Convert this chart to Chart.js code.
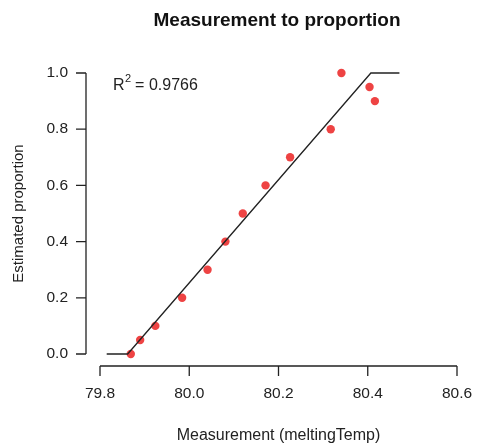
<!DOCTYPE html>
<html>
<head>
<meta charset="utf-8">
<script src="https://cdn.jsdelivr.net/npm/chart.js@4.4.1/dist/chart.umd.min.js"></script>
<style>
  html, body { margin: 0; padding: 0; background: #fff; }
  #wrap { width: 477px; height: 444px; }
</style>
</head>
<body>
<div id="wrap"><canvas id="c" width="477" height="444"></canvas></div>
<script>
// observed measurements and their estimated proportions
var measX = [79.869, 79.890, 79.924, 79.984, 80.041, 80.081, 80.120, 80.171, 80.226, 80.317, 80.341, 80.404, 80.416];
var measY = [0.0, 0.05, 0.1, 0.2, 0.3, 0.4, 0.5, 0.6, 0.7, 0.8, 1.0, 0.95, 0.9];

// fitted (clamped) line
var fitX = [79.815, 79.862, 80.407, 80.471];
var fitY = [0, 0, 1, 1];

var xTicks = [79.8, 80.0, 80.2, 80.4, 80.6];
var yTicks = [0.0, 0.2, 0.4, 0.6, 0.8, 1.0];
var rSquared = 0.9766;

var FONT = '"Liberation Sans", Arial, Helvetica, sans-serif';

function zip(xs, ys) {
  return xs.map(function (x, i) { return { x: x, y: ys[i] }; });
}

// R style axes, offset from the plot region
var baseAxes = {
  id: 'baseAxes',
  afterDraw: function (chart) {
    var ctx = chart.ctx;
    var xs = chart.scales.x, ys = chart.scales.y;
    var area = chart.chartArea;
    ctx.save();
    ctx.strokeStyle = '#222';
    ctx.fillStyle = '#222';
    ctx.lineWidth = 1.3;

    // x axis
    var axY = area.bottom + 12;
    var x0 = xs.getPixelForValue(xTicks[0]);
    var x1 = xs.getPixelForValue(xTicks[xTicks.length - 1]);
    ctx.beginPath();
    ctx.moveTo(x0, axY); ctx.lineTo(x1, axY);
    xTicks.forEach(function (t) {
      var px = xs.getPixelForValue(t);
      ctx.moveTo(px, axY); ctx.lineTo(px, axY + 10);
    });
    ctx.stroke();
    ctx.font = '15.5px ' + FONT;
    ctx.textAlign = 'center';
    ctx.textBaseline = 'middle';
    xTicks.forEach(function (t) {
      ctx.fillText(t.toFixed(1), xs.getPixelForValue(t), axY + 28);
    });

    // y axis
    var axX = area.left - 14;
    var y0 = ys.getPixelForValue(yTicks[0]);
    var y1 = ys.getPixelForValue(yTicks[yTicks.length - 1]);
    ctx.beginPath();
    ctx.moveTo(axX, y0); ctx.lineTo(axX, y1);
    yTicks.forEach(function (t) {
      var py = ys.getPixelForValue(t);
      ctx.moveTo(axX, py); ctx.lineTo(axX - 10, py);
    });
    ctx.stroke();
    ctx.textAlign = 'right';
    yTicks.forEach(function (t) {
      ctx.fillText(t.toFixed(1), axX - 18, ys.getPixelForValue(t));
    });

    // axis titles
    ctx.textAlign = 'center';
    ctx.font = '16px ' + FONT;
    ctx.fillText('Measurement (meltingTemp)', (x0 + x1) / 2, 436);
    ctx.save();
    ctx.translate(19, (y0 + y1) / 2);
    ctx.rotate(-Math.PI / 2);
    ctx.font = '15px ' + FONT;
    ctx.fillText('Estimated proportion', 0, 0);
    ctx.restore();

    // main title
    ctx.font = 'bold 19px ' + FONT;
    ctx.fillStyle = '#111';
    ctx.fillText('Measurement to proportion', 277, 21);

    // R^2 annotation
    ctx.fillStyle = '#222';
    ctx.textAlign = 'left';
    ctx.textBaseline = 'alphabetic';
    ctx.font = '16px ' + FONT;
    var tx = 113, ty = 90;
    ctx.fillText('R', tx, ty);
    var w = ctx.measureText('R').width;
    ctx.font = '11px ' + FONT;
    ctx.fillText('2', tx + w + 0.5, ty - 8);
    var w2 = ctx.measureText('2').width;
    ctx.font = '16px ' + FONT;
    ctx.fillText(' = ' + rSquared.toFixed(4), tx + w + w2, ty);
    ctx.restore();
  }
};

new Chart(document.getElementById('c'), {
  type: 'scatter',
  data: {
    datasets: [
      {
        type: 'line',
        data: zip(fitX, fitY),
        borderColor: '#222',
        borderWidth: 1.3,
        pointRadius: 0,
        fill: false,
        tension: 0,
        clip: false
      },
      {
        data: zip(measX, measY),
        backgroundColor: '#EE4343',
        borderWidth: 0,
        pointRadius: 4.2,
        clip: false
      }
    ]
  },
  options: {
    responsive: false,
    animation: false,
    layout: { padding: { left: 100, right: 20, top: 73, bottom: 90 } },
    plugins: { legend: { display: false }, tooltip: { enabled: false } },
    scales: {
      x: { type: 'linear', min: 79.8, max: 80.6, display: false },
      y: { type: 'linear', min: 0, max: 1, display: false }
    }
  },
  plugins: [baseAxes]
});
</script>
</body>
</html>
